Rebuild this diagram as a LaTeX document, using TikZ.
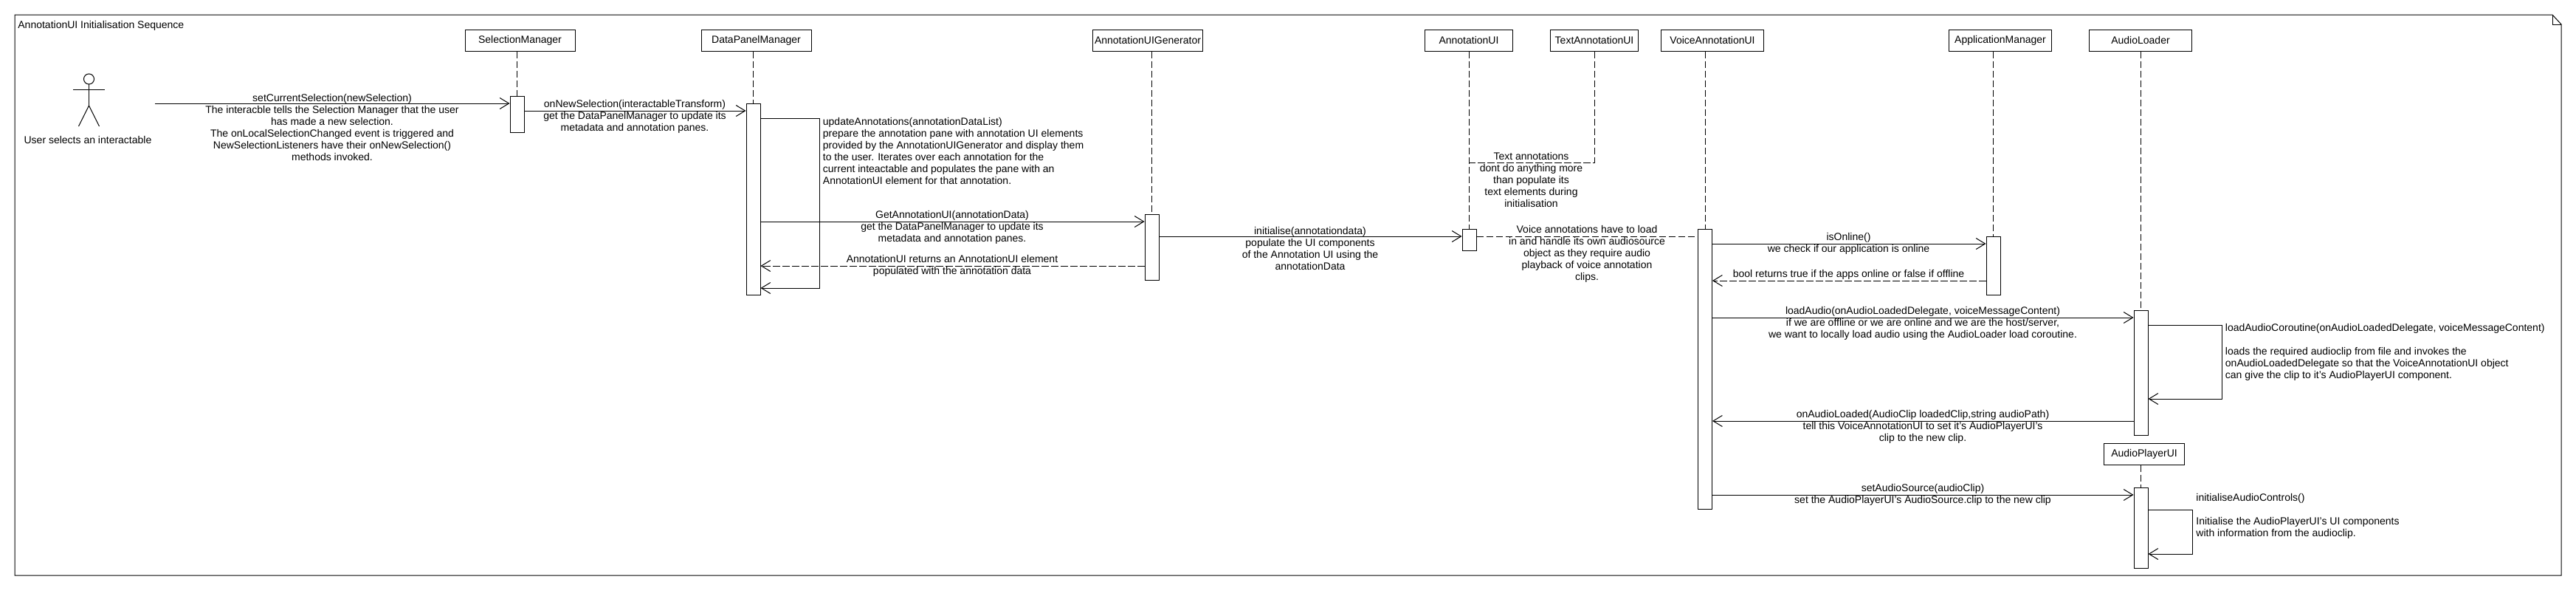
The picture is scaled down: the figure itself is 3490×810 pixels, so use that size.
\documentclass[tikz,border=0pt]{standalone}
\usepackage{fontspec}
\setmainfont{Liberation Sans}
\usetikzlibrary{arrows.meta}
\tikzset{myLine/.style={line width=0.5pt,color=black}}
\tikzset{myMsg/.style={myLine,-{Straight Barb[length=6.2pt,width=7.5pt,line width=0.5pt]}}}
\tikzset{myDash/.style={dash pattern=on 4.7pt off 1.8pt}}
\tikzset{myReturn/.style={myMsg,myDash}}
\tikzset{myLife/.style={myLine,myDash}}
\tikzset{myBox/.style={draw,myLine,fill=white,minimum height=14.5pt,inner sep=0pt,font=\myFont}}
\tikzset{myBar/.style={draw,myLine,fill=white,inner sep=0pt,minimum width=9.5pt}}
\tikzset{myText/.style={inner sep=0pt,align=center,font=\myFont}}
\tikzset{myNote/.style={inner sep=0pt,align=left,font=\myFont}}
\newcommand{\myFont}{\fontsize{7pt}{8pt}\selectfont}

\begin{document}
\begin{tikzpicture}[x=0.5pt,y=-0.5pt]
	\useasboundingbox (0,0) rectangle (3490,810);
	\draw[myLine] (20,20)--(3458,20)--(3470,33)--(3470,779)--(20,779)--cycle;
	\draw[myLine] (3458,20)--(3458,33)--(3470,33);
	\node[myNote,anchor=west] (title) at (24,35) {AnnotationUI Initialisation Sequence};

	% actor
	\draw[myLine] (120.5,107) circle [radius=7];
	\draw[myLine] (120.5,114)--(120.5,143);
	\draw[myLine] (99,121)--(142,121);
	\draw[myLine] (106.5,171)--(120.5,143)--(134.5,171);
	\node[myText] (user) at (119,189) {User selects an interactable};
	\coordinate (userEnd) at (210,140);

	% the objects along the top
	\node[myBox,minimum width=74.5pt] (boxSel) at (704.5,54.5) {SelectionManager};
	\node[myBox,minimum width=74.5pt] (boxData) at (1024.5,54.5) {DataPanelManager};
	\node[myBox,minimum width=74.5pt] (boxGen) at (1555,54.5) {AnnotationUIGenerator};
	\node[myBox,minimum width=59.5pt] (boxAnno) at (1990,54.5) {AnnotationUI};
	\node[myBox,minimum width=59.5pt] (boxText) at (2160,54.5) {TextAnnotationUI};
	\node[myBox,minimum width=69.5pt] (boxVoice) at (2320,54.5) {VoiceAnnotationUI};
	\node[myBox,minimum width=69.5pt] (boxApp) at (2710,54.5) {ApplicationManager};
	\node[myBox,minimum width=69.5pt] (boxLoad) at (2900,54.5) {AudioLoader};
	\node[myBox,minimum width=54.5pt] (boxPlay) at (2905,614.5) {AudioPlayerUI};

	% activation bars
	\node[myBar,minimum height=24.5pt] (barSel) at (700.5,154.5) {};
	\node[myBar,minimum height=129.5pt] (barData) at (1020.5,269.5) {};
	\node[myBar,minimum height=44.5pt] (barGen) at (1560.5,334.5) {};
	\node[myBar,minimum height=14.5pt] (barAnno) at (1990.5,324.5) {};
	\node[myBar,minimum height=189.5pt] (barVoice) at (2310,499.5) {};
	\node[myBar,minimum height=39.5pt] (barApp) at (2700.5,359.5) {};
	\node[myBar,minimum height=84.5pt] (barLoad) at (2900.5,504.5) {};
	\node[myBar,minimum height=54.5pt] (barPlay) at (2900.5,714.5) {};

	% lifelines
	\foreach \myBoxName/\myBarName in {boxSel/barSel,boxData/barData,boxGen/barGen,boxAnno/barAnno,boxVoice/barVoice,boxApp/barApp,boxLoad/barLoad,boxPlay/barPlay}
		\draw[myLife] (\myBarName.north |- \myBoxName.south)--(\myBarName.north);
	\draw[myLife] (boxText.south)--(2160,220)--(1990,220);

	% messages
	\draw[myMsg] (userEnd)--(barSel.west |- userEnd);
	\node[myText] (msgSel) at (450,172) {setCurrentSelection(newSelection)\\The interacble tells the Selection Manager that the user\\has made a new selection.\\The onLocalSelectionChanged event is triggered and\\NewSelectionListeners have their onNewSelection()\\methods invoked.};

	\draw[myMsg] (barSel.east |- 0,150)--(barData.west |- 0,150);
	\node[myText] (msgData) at (860,158) {onNewSelection(interactableTransform)\\get the DataPanelManager to update its\\metadata and annotation panes.};

	\draw[myMsg] (barData.east |- 0,160)--(1110,160)--(1110,390)--(barData.east |- 0,390);
	\node[myNote,anchor=north west] (noteData) at (1114.5,159) {updateAnnotations(annotationDataList)\\prepare the annotation pane with annotation UI elements\\provided by the AnnotationUIGenerator and display them\\to the user. Iterates over each annotation for the\\current inteactable and populates the pane with an\\AnnotationUI element for that annotation.};

	\draw[myMsg] (barData.east |- 0,300)--(barGen.west |- 0,300);
	\node[myText] (msgGen) at (1290,308) {GetAnnotationUI(annotationData)\\get the DataPanelManager to update its\\metadata and annotation panes.};
	\draw[myReturn] (barGen.west |- 0,360)--(barData.east |- 0,360);
	\node[myText] (msgBack) at (1290,360) {AnnotationUI returns an AnnotationUI element\\populated with the annotation data};

	\draw[myMsg] (barGen.east |- 0,320)--(barAnno.west |- 0,320);
	\node[myText] (msgAnno) at (1775,336) {initialise(annotationdata)\\populate the UI components\\of the Annotation UI using the\\annotationData};
	\node[myText] (msgText) at (2074.5,243) {Text annotations\\dont do anything more\\than populate its\\text elements during\\initialisation};
	\draw[myLife] (barAnno.east |- 0,320)--(barVoice.west |- 0,320);
	\node[myText] (msgVoice) at (2150,344) {Voice annotations have to load\\in and handle its own audiosource\\object as they require audio\\playback of voice annotation\\clips.};

	\draw[myMsg] (barVoice.east |- 0,330)--(barApp.west |- 0,330);
	\node[myText] (msgApp) at (2504.5,330) {isOnline()\\we check if our application is online};
	\draw[myReturn] (barApp.west |- 0,380)--(barVoice.east |- 0,380);
	\node[myText] (msgBool) at (2504.5,372) {bool returns true if the apps online or false if offline};

	\draw[myMsg] (barVoice.east |- 0,430)--(barLoad.west |- 0,430);
	\node[myText] (msgLoad) at (2605,438) {loadAudio(onAudioLoadedDelegate, voiceMessageContent)\\if we are offline or we are online and we are the host/server,\\we want to locally load audio using the AudioLoader load coroutine.};
	\draw[myMsg] (barLoad.east |- 0,440)--(3010,440)--(3010,540)--(barLoad.east |- 0,540);
	\node[myNote,anchor=north west] (noteLoad) at (3014.5,438) {loadAudioCoroutine(onAudioLoadedDelegate, voiceMessageContent)\\ \\loads the required audioclip from file and invokes the\\onAudioLoadedDelegate so that the VoiceAnnotationUI object\\can give the clip to it's AudioPlayerUI component.};
	\draw[myMsg] (barLoad.west |- 0,570)--(barVoice.east |- 0,570);
	\node[myText] (msgClip) at (2605,578) {onAudioLoaded(AudioClip loadedClip,string audioPath)\\tell this VoiceAnnotationUI to set it's AudioPlayerUI's\\clip to the new clip.};

	\draw[myMsg] (barVoice.east |- 0,670)--(barPlay.west |- 0,670);
	\node[myText] (msgPlay) at (2605,670) {setAudioSource(audioClip)\\set the AudioPlayerUI's AudioSource.clip to the new clip};
	\draw[myMsg] (barPlay.east |- 0,690)--(2970.5,690)--(2970.5,750)--(barPlay.east |- 0,750);
	\node[myNote,anchor=north west] (notePlay) at (2975,668) {initialiseAudioControls()\\ \\Initialise the AudioPlayerUI's UI components\\with information from the audioclip.};
\end{tikzpicture}
\end{document}
